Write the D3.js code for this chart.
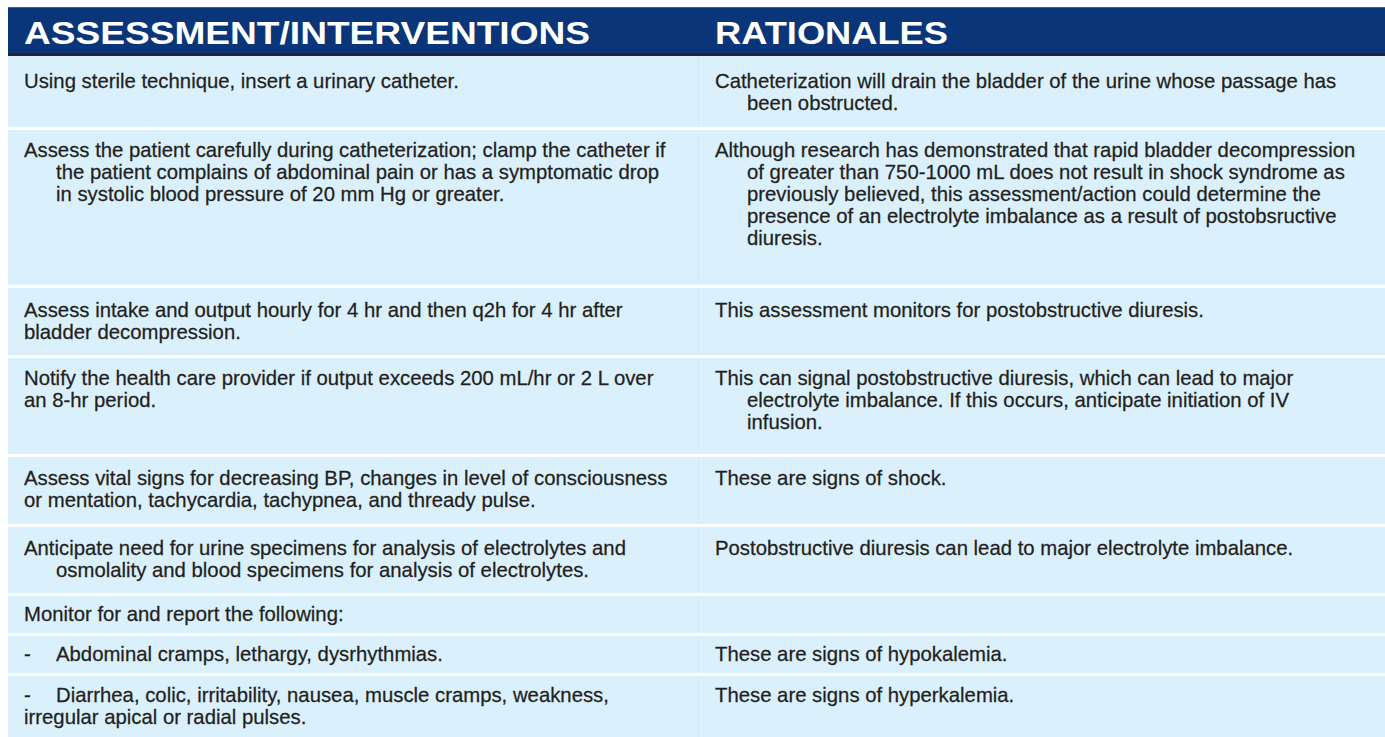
<!DOCTYPE html>
<html><head><meta charset="utf-8">
<script src="https://cdn.jsdelivr.net/npm/d3@7"></script>
<style>
html,body{margin:0;padding:0;background:#fff;overflow:hidden;}
svg{display:block;}
</style></head>
<body>
<svg id="c" width="1385" height="737"></svg>
<script>
// ---- data ----
const headers = ["ASSESSMENT/INTERVENTIONS", "RATIONALES"];
const interventions = [
  ["Using sterile technique, insert a urinary catheter."],
  ["Assess the patient carefully during catheterization; clamp the catheter if",
   "the patient complains of abdominal pain or has a symptomatic drop",
   "in systolic blood pressure of 20 mm Hg or greater."],
  ["Assess intake and output hourly for 4 hr and then q2h for 4 hr after",
   "bladder decompression."],
  ["Notify the health care provider if output exceeds 200 mL/hr or 2 L over",
   "an 8-hr period."],
  ["Assess vital signs for decreasing BP, changes in level of consciousness",
   "or mentation, tachycardia, tachypnea, and thready pulse."],
  ["Anticipate need for urine specimens for analysis of electrolytes and",
   "osmolality and blood specimens for analysis of electrolytes."],
  ["Monitor for and report the following:"],
  ["Abdominal cramps, lethargy, dysrhythmias."],
  ["Diarrhea, colic, irritability, nausea, muscle cramps, weakness,",
   "irregular apical or radial pulses."]
];
const rationales = [
  ["Catheterization will drain the bladder of the urine whose passage has",
   "been obstructed."],
  ["Although research has demonstrated that rapid bladder decompression",
   "of greater than 750-1000 mL does not result in shock syndrome as",
   "previously believed, this assessment/action could determine the",
   "presence of an electrolyte imbalance as a result of postobsructive",
   "diuresis."],
  ["This assessment monitors for postobstructive diuresis."],
  ["This can signal postobstructive diuresis, which can lead to major",
   "electrolyte imbalance. If this occurs, anticipate initiation of IV",
   "infusion."],
  ["These are signs of shock."],
  ["Postobstructive diuresis can lead to major electrolyte imbalance."],
  [],
  ["These are signs of hypokalemia."],
  ["These are signs of hyperkalemia."]
];
const bulletRows = [false, false, false, false, false, false, false, true, true];

// ---- layout ----
const leftHang = [true, true, false, false, false, true, false, false, false];
const rightHang = [true, true, true, true, true, true, true, true, true];
const rowTops    = [56, 130, 288, 358, 457, 527, 596, 636, 676];
const rowBottoms = [127, 285, 355, 454, 524, 593, 633, 673, 760];
const baseOff    = [32, 27, 29, 27, 28, 28, 25, 25, 26];
const W = 1385, H = 737;
const x0 = 8, xMid = 698, x1 = W;
const lineH = 22;
const fontBody = "'Liberation Sans',Arial,Helvetica,sans-serif";
const fsBody = 21;

const svg = d3.select("#c");

// header
svg.append("rect").attr("x", x0).attr("y", 7).attr("width", x1 - x0).attr("height", 46).attr("fill", "#0b3579");
svg.append("rect").attr("x", x0).attr("y", 7).attr("width", x1 - x0).attr("height", 1).attr("fill", "#3d5f96");
svg.append("rect").attr("x", x0).attr("y", 53).attr("width", x1 - x0).attr("height", 3).attr("fill", "#24262b");

const hx = [24, 715], hw = [566, 233];
svg.selectAll("text.h").data(headers).join("text")
  .attr("class", "h")
  .attr("x", (d, i) => hx[i]).attr("y", 43.5)
  .attr("textLength", (d, i) => hw[i]).attr("lengthAdjust", "spacingAndGlyphs")
  .attr("font-family", "'Liberation Sans',Arial,Helvetica,sans-serif")
  .attr("font-weight", "bold").attr("font-size", 30.5).attr("fill", "#ffffff")
  .text(d => d);

// rows
const rows = svg.append("g");
interventions.forEach((_, i) => {
  rows.append("rect").attr("x", x0).attr("y", rowTops[i])
    .attr("width", xMid - x0).attr("height", rowBottoms[i] - rowTops[i]).attr("fill", "#daf0fc");
  rows.append("rect").attr("x", xMid + 1).attr("y", rowTops[i])
    .attr("width", x1 - xMid - 1).attr("height", rowBottoms[i] - rowTops[i]).attr("fill", "#daf0fc");
  rows.append("rect").attr("x", xMid).attr("y", rowTops[i])
    .attr("width", 1).attr("height", rowBottoms[i] - rowTops[i]).attr("fill", "#d4eaf6");
});

// measure condensed scale
const probe = svg.append("text").attr("font-family", fontBody).attr("font-size", fsBody)
  .text("Using sterile technique, insert a urinary catheter.");
const sx = 435 / probe.node().getComputedTextLength();
probe.remove();

function addLine(x, y, t) {
  svg.append("text")
    .attr("transform", `translate(${x},${y}) scale(${sx},1)`)
    .attr("font-family", fontBody).attr("font-size", fsBody).attr("fill", "#231f20")
    .attr("stroke", "#231f20").attr("stroke-width", 0.25)
    .text(t);
}

interventions.forEach((lines, i) => {
  const yb = rowTops[i] + baseOff[i];
  if (bulletRows[i]) addLine(24, yb, "-");
  lines.forEach((t, j) => {
    let x;
    if (j === 0) x = bulletRows[i] ? 56 : 24;
    else x = leftHang[i] ? 56 : 24;
    addLine(x, yb + j * lineH, t);
  });
});
rationales.forEach((lines, i) => {
  const yb = rowTops[i] + baseOff[i];
  lines.forEach((t, j) => {
    const x = j === 0 ? 715 : (rightHang[i] ? 747 : 715);
    addLine(x, yb + j * lineH, t);
  });
});
</script>
</body></html>
